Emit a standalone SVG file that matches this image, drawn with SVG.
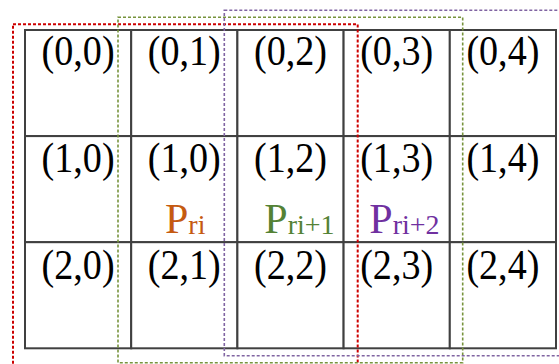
<svg xmlns="http://www.w3.org/2000/svg" width="559" height="364" viewBox="0 0 559 364">
<style>
.cell{fill:#fff;stroke:#404040;stroke-width:2}
.lbl{font-family:"Liberation Serif","DejaVu Serif",serif;font-size:42px;fill:#000;text-anchor:middle}
.p{font-family:"Liberation Serif","DejaVu Serif",serif;font-size:42px}
.sub{font-size:28px}
.reg{fill:none;stroke-dasharray:3 2}
</style>
<rect width="559" height="364" fill="#fff"/>
<g id="grid">
<g id="c00"><rect class="cell" x="25" y="30" width="106.2" height="106.1"/><text class="lbl" x="78.1" y="65" textLength="73" lengthAdjust="spacingAndGlyphs">(0,0)</text></g>
<g id="c01"><rect class="cell" x="131.2" y="30" width="106.2" height="106.1"/><text class="lbl" x="184.3" y="65" textLength="73" lengthAdjust="spacingAndGlyphs">(0,1)</text></g>
<g id="c02"><rect class="cell" x="237.4" y="30" width="106.2" height="106.1"/><text class="lbl" x="290.5" y="65" textLength="73" lengthAdjust="spacingAndGlyphs">(0,2)</text></g>
<g id="c03"><rect class="cell" x="343.6" y="30" width="106.2" height="106.1"/><text class="lbl" x="396.7" y="65" textLength="73" lengthAdjust="spacingAndGlyphs">(0,3)</text></g>
<g id="c04"><rect class="cell" x="449.8" y="30" width="106.2" height="106.1"/><text class="lbl" x="502.9" y="65" textLength="73" lengthAdjust="spacingAndGlyphs">(0,4)</text></g>
<g id="c10"><rect class="cell" x="25" y="136.1" width="106.2" height="106.1"/><text class="lbl" x="78.1" y="172" textLength="73" lengthAdjust="spacingAndGlyphs">(1,0)</text></g>
<g id="c11"><rect class="cell" x="131.2" y="136.1" width="106.2" height="106.1"/><text class="lbl" x="184.3" y="172" textLength="73" lengthAdjust="spacingAndGlyphs">(1,0)</text></g>
<g id="c12"><rect class="cell" x="237.4" y="136.1" width="106.2" height="106.1"/><text class="lbl" x="290.5" y="172" textLength="73" lengthAdjust="spacingAndGlyphs">(1,2)</text></g>
<g id="c13"><rect class="cell" x="343.6" y="136.1" width="106.2" height="106.1"/><text class="lbl" x="396.7" y="172" textLength="73" lengthAdjust="spacingAndGlyphs">(1,3)</text></g>
<g id="c14"><rect class="cell" x="449.8" y="136.1" width="106.2" height="106.1"/><text class="lbl" x="502.9" y="172" textLength="73" lengthAdjust="spacingAndGlyphs">(1,4)</text></g>
<g id="c20"><rect class="cell" x="25" y="242.2" width="106.2" height="106.1"/><text class="lbl" x="78.1" y="279" textLength="73" lengthAdjust="spacingAndGlyphs">(2,0)</text></g>
<g id="c21"><rect class="cell" x="131.2" y="242.2" width="106.2" height="106.1"/><text class="lbl" x="184.3" y="279" textLength="73" lengthAdjust="spacingAndGlyphs">(2,1)</text></g>
<g id="c22"><rect class="cell" x="237.4" y="242.2" width="106.2" height="106.1"/><text class="lbl" x="290.5" y="279" textLength="73" lengthAdjust="spacingAndGlyphs">(2,2)</text></g>
<g id="c23"><rect class="cell" x="343.6" y="242.2" width="106.2" height="106.1"/><text class="lbl" x="396.7" y="279" textLength="73" lengthAdjust="spacingAndGlyphs">(2,3)</text></g>
<g id="c24"><rect class="cell" x="449.8" y="242.2" width="106.2" height="106.1"/><text class="lbl" x="502.9" y="279" textLength="73" lengthAdjust="spacingAndGlyphs">(2,4)</text></g>
</g>
<g id="labels">
<g id="p-ri"><text class="p" x="165" y="233" fill="#c55a11">P<tspan class="sub" dy="1">ri</tspan></text></g>
<g id="p-ri1"><text class="p" x="264.3" y="233" fill="#548235">P<tspan class="sub" dy="1">ri+1</tspan></text></g>
<g id="p-ri2"><text class="p" x="369.3" y="233" fill="#7030a0">P<tspan class="sub" dy="1">ri+2</tspan></text></g>
</g>
<g id="regions">
<rect id="region-red" class="reg" x="13" y="24.3" width="344.7" height="350" stroke="#cc0000" stroke-width="2"/>
<rect id="region-green" class="reg" x="118" y="17.3" width="344.7" height="345.4" stroke="#77933c" stroke-width="1.6"/>
<rect id="region-purple" class="reg" x="224.3" y="10.3" width="350" height="345.4" stroke="#8064a2" stroke-width="1.6"/>
</g>
<g id="connectors"/>
</svg>
